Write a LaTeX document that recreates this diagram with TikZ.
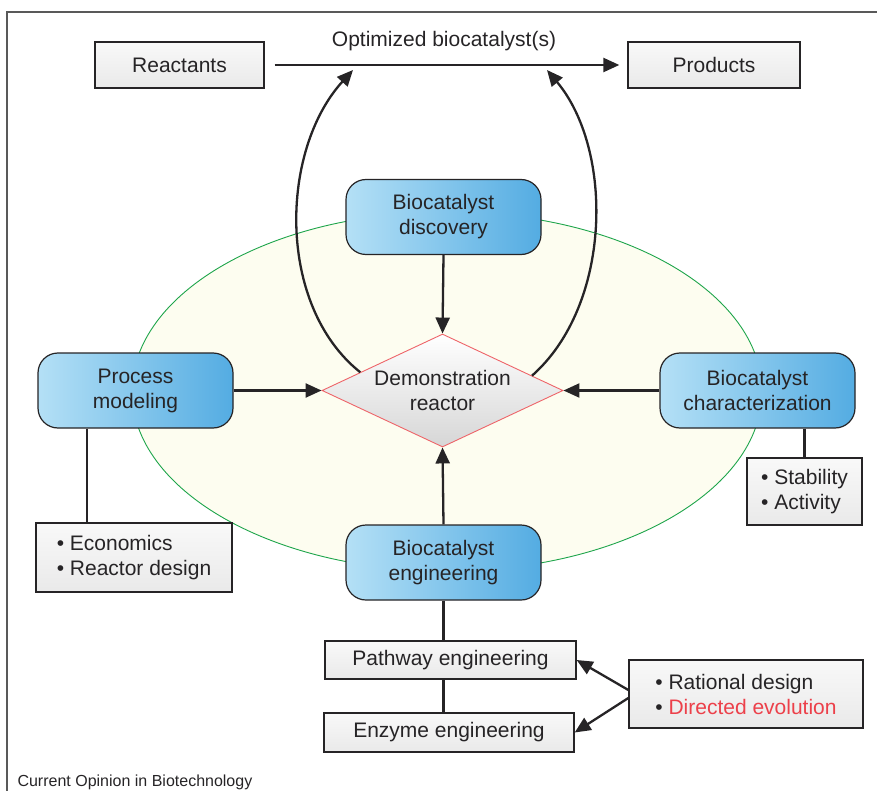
\documentclass[tikz,border=0pt]{standalone}
\usepackage{fontspec}
\setmainfont{Liberation Sans}
\usetikzlibrary{arrows.meta, positioning, shapes.geometric, calc}
\definecolor{stageblue}{RGB}{84,172,226}
\definecolor{stagepale}{RGB}{180,224,246}
\definecolor{rimgreen}{RGB}{30,165,75}
\definecolor{rimred}{RGB}{238,100,105}
\definecolor{cream}{RGB}{253,253,240}
\definecolor{inkgray}{RGB}{38,36,38}
\definecolor{evored}{RGB}{236,64,74}

\begin{document}
\begin{tikzpicture}[
    x=1pt, y=-1pt,
    font=\fontsize{21}{25}\selectfont,
    stage/.style={rectangle, rounded corners=20pt, draw=inkgray, line width=1.2pt,
      left color=stagepale, right color=stageblue, text=inkgray,
      minimum width=195pt, minimum height=75pt, align=center, inner sep=0pt},
    note/.style={rectangle, draw=inkgray, line width=1.3pt, top color=gray!5,
      bottom color=gray!17, text=inkgray, align=left, inner sep=0pt},
    arr/.style={line width=2.3pt, inkgray, -{Triangle[length=16pt, width=14pt]}},
    lnk/.style={line width=2.3pt, inkgray}
  ]
  \useasboundingbox (0,0) rectangle (877,791);

  % frame
  \draw[gray!70!black, line width=1.2pt] (7,791) -- (7,12) -- (877,12);

  % background ring
  \draw[rimgreen, fill=cream, line width=0.9pt] (447,391.5) ellipse [x radius=315, y radius=179.5];

  % top row
  \node[note, minimum width=169pt, minimum height=46pt] (reac) at (179.5,65) {Reactants};
  \node[note, minimum width=172pt, minimum height=46pt] (prod) at (714,65) {Products};
  \node[text=inkgray] (opt) at (444,41) {Optimized biocatalyst(s)};
  \draw[arr, shorten <=10pt, shorten >=8pt] (reac) -- (prod);

  % centre
  \node[diamond, aspect=2.13, draw=rimred, line width=0.9pt, top color=white,
    bottom color=gray!32, text=inkgray, minimum width=241pt, minimum height=113pt,
    inner sep=0pt, align=center] (dem) at (442.5,390.5) {Demonstration\\reactor};

  \node[stage] (disc) at (443.5,217) {Biocatalyst\\discovery};
  \node[stage] (proc) at (135.5,390.5) {Process\\modeling};
  \node[stage] (char) at (757.5,390.5) {Biocatalyst\\characterization};
  \node[stage] (eng) at (443.5,562.5) {Biocatalyst\\engineering};

  \draw[arr] (disc.south) -- (dem.north);
  \draw[arr] (eng.north) -- (dem.south);
  \draw[arr] (proc.east) -- (dem.west);
  \draw[arr] (char.west) -- (dem.east);

  % feedback to the reaction
  \coordinate (hitL) at (353,70);
  \coordinate (hitR) at (547,70);
  \draw[arr] ($(dem.west)!0.32!(dem.north)$) .. controls (276,305) and (280,150) .. (hitL);
  \draw[arr] ($(dem.east)!0.26!(dem.north)$) .. controls (612,305) and (614,150) .. (hitR);

  % side notes
  \node[note, minimum width=196pt, minimum height=69pt] (econ) at (134,557.5) {• Economics\\• Reactor design};
  \node[note, minimum width=115pt, minimum height=67pt] (stab) at (804.5,491.5) {• Stability\\• Activity};
  \draw[lnk] ([xshift=-48.5pt]proc.south) -- ([xshift=-48.5pt]proc.south |- econ.north);
  \draw[lnk] (char.south -| stab.north) -- (stab.north);

  % engineering branch
  \node[note, minimum width=251pt, minimum height=38pt] (path) at (450.5,660) {Pathway engineering};
  \node[note, minimum width=250pt, minimum height=39pt] (enz) at (449,732.5) {Enzyme engineering};
  \node[note, minimum width=234pt, minimum height=68pt] (rat) at (746,694)
    {• Rational design\\• \textcolor{evored}{Directed evolution}};
  \draw[lnk] (eng.south) -- (eng.south |- path.north);
  \draw[lnk] (eng.south |- path.south) -- (eng.south |- enz.north);
  \draw[arr] ([yshift=4pt]rat.west) -- (path.east);
  \draw[arr] ([yshift=-4pt]rat.west) -- (enz.east);

  \node[anchor=base west, font=\fontsize{16}{18}\selectfont, text=inkgray] (src) at (14,786) {Current Opinion in Biotechnology};
\end{tikzpicture}
\end{document}
